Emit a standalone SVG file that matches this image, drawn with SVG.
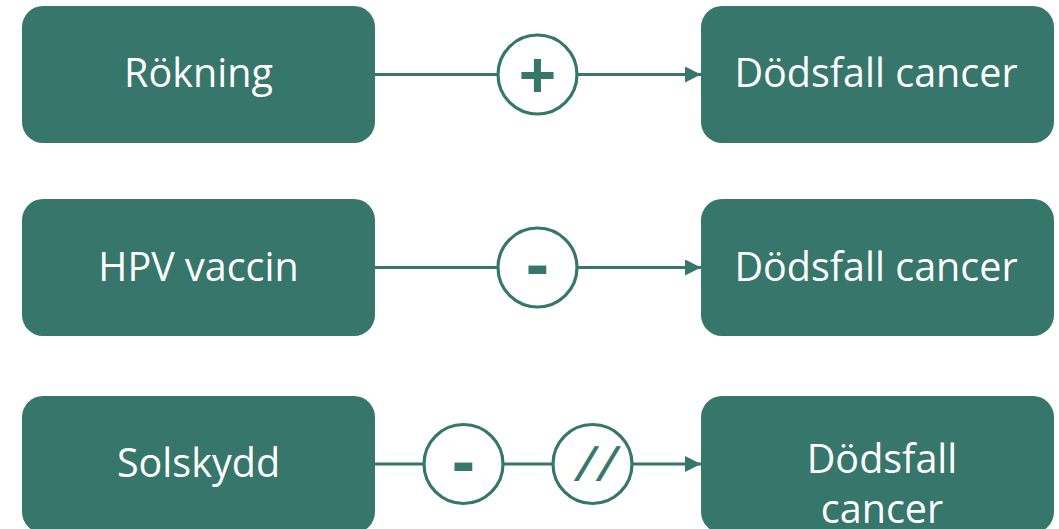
<svg xmlns="http://www.w3.org/2000/svg" width="1059" height="529" viewBox="0 0 1059 529">
  <style>
    .box { fill: #36766b; }
    .label { font-family: "Open Sans", Lato, "Liberation Sans", sans-serif; font-size: 39.5px; font-weight: 500; fill: #ffffff; text-anchor: middle; }
    .wire { stroke: #36766b; stroke-width: 3; fill: none; }
    .ring { stroke: #36766b; stroke-width: 3.2; fill: #ffffff; }
    .sign { font-family: "Liberation Sans", Arial, sans-serif; font-weight: bold; fill: #36766b; text-anchor: middle; }
    .slash { font-weight: normal; stroke: #36766b; stroke-width: 0.9; }
  </style>
  <defs>
    <marker id="arrow" viewBox="0 0 16 16" refX="16" refY="8" markerWidth="16" markerHeight="16" markerUnits="userSpaceOnUse" orient="auto">
      <path d="M0,0 L16,8 L0,16 Z" fill="#36766b"/>
    </marker>
  </defs>
  <rect width="1059" height="529" fill="#ffffff"/>

  <!-- connectors -->
  <g id="connectors">
    <g id="edge-rokning">
      <line class="wire" x1="375" y1="74.5" x2="498" y2="74.5"/>
      <line class="wire" x1="577" y1="74.5" x2="701" y2="74.5" marker-end="url(#arrow)"/>
      <circle class="ring" cx="537.5" cy="74.5" r="39.5"/>
      <text class="sign" x="537.5" y="97" font-size="64">+</text>
    </g>
    <g id="edge-hpv">
      <line class="wire" x1="375" y1="267.5" x2="498" y2="267.5"/>
      <line class="wire" x1="577" y1="267.5" x2="701" y2="267.5" marker-end="url(#arrow)"/>
      <circle class="ring" cx="537.5" cy="267.5" r="39.5"/>
      <text class="sign" x="537.5" y="288" font-size="70">-</text>
    </g>
    <g id="edge-solskydd">
      <line class="wire" x1="375" y1="464" x2="424" y2="464"/>
      <line class="wire" x1="503" y1="464" x2="553" y2="464"/>
      <line class="wire" x1="632" y1="464" x2="701" y2="464" marker-end="url(#arrow)"/>
      <circle class="ring" cx="463.5" cy="464" r="39.5"/>
      <text class="sign" x="463.5" y="485" font-size="70">-</text>
      <circle class="ring" cx="592.5" cy="464" r="39.5"/>
      <text class="sign slash" transform="translate(592.5,480) skewX(-18)" x="4" y="0" font-size="46" letter-spacing="9">//</text>
    </g>
  </g>

  <!-- causes -->
  <g id="node-rokning">
    <rect class="box" x="22" y="6" width="353" height="137" rx="21"/>
    <text class="label" x="198.5" y="87">Rökning</text>
  </g>
  <g id="node-hpv">
    <rect class="box" x="22" y="199" width="353" height="137" rx="21"/>
    <text class="label" x="198.5" y="281">HPV vaccin</text>
  </g>
  <g id="node-solskydd">
    <rect class="box" x="22" y="396" width="353" height="137" rx="21"/>
    <text class="label" x="198.5" y="477">Solskydd</text>
  </g>

  <!-- outcomes -->
  <g id="node-dodsfall-1">
    <rect class="box" x="701" y="6" width="353" height="137" rx="21"/>
    <text class="label" x="876" y="87">Dödsfall cancer</text>
  </g>
  <g id="node-dodsfall-2">
    <rect class="box" x="701" y="199" width="353" height="137" rx="21"/>
    <text class="label" x="876" y="281">Dödsfall cancer</text>
  </g>
  <g id="node-dodsfall-3">
    <rect class="box" x="701" y="396" width="353" height="137" rx="21"/>
    <text class="label" x="882" y="473">Dödsfall</text>
    <text class="label" x="882" y="523">cancer</text>
  </g>
</svg>
